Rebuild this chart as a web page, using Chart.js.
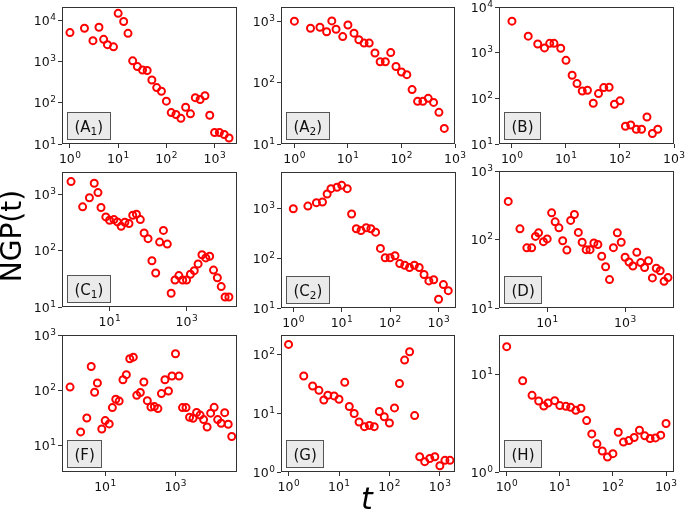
<!DOCTYPE html>
<html>
<head>
<meta charset="utf-8">
<script src="https://cdn.jsdelivr.net/npm/chart.js@4.4.0/dist/chart.umd.min.js"></script>
<style>
  html, body { margin: 0; padding: 0; background: #fff; }
  #wrap { position: relative; width: 685px; height: 512px; overflow: hidden; }
  #wrap canvas { position: absolute; left: 0; top: 0; }
</style>
</head>
<body>
<div id="wrap"></div>
<script>
// time bins shared by all panels (each panel uses the first N)
const tBins = [1, 2, 3, 4, 5, 6, 8, 10, 13, 16, 20, 25, 32, 40, 50, 63, 79, 100, 126, 158, 200, 251, 316, 398, 501, 631, 794,
  1000, 1259, 1585, 1995, 2512, 3162, 3981, 5012, 6310, 7943, 10000, 12589, 15849, 19953, 25119, 31623, 39811];

const ngpA1 = [5100, 6500, 3250, 6900, 3500, 2600, 2300, 15000, 9500, 4900, 1050, 760, 630, 610, 360, 235, 192, 110, 58, 52, 42, 78, 54, 134, 121, 149, 50, 19, 19, 17, 14];
const ngpA2 = [1030, 790, 820, 690, 1040, 760, 575, 890, 655, 510, 450, 450, 310, 223, 223, 315, 186, 151, 137, 78, 50, 50, 56, 48, 33, 18];
const ngpB = [4900, 2300, 1550, 1270, 1600, 1600, 1250, 680, 320, 210, 145, 150, 78, 127, 172, 175, 74, 88, 24.5, 26, 21, 21, 39, 17, 21];
const ngpC1 = [1660, 594, 860, 1550, 1060, 578, 394, 343, 353, 321, 268, 316, 300, 422, 440, 353, 204, 162, 66, 40, 141, 227, 130, 17.5, 30, 36, 30, 30, 38, 44, 58, 84, 74, 79, 45, 33, 23, 15, 15];
const ngpC2 = [985, 1110, 1300, 1340, 1945, 2490, 2650, 2900, 2490, 770, 390, 360, 408, 390, 333, 157, 102, 102, 112, 78, 72, 65, 72, 65, 47, 35, 37, 15, 29.5, 22.3];
const ngpD = [360, 143, 75.5, 75.5, 111, 125, 93, 102, 245, 181, 148, 96, 70, 190, 232, 127, 91, 71, 71, 89, 84.5, 57, 40, 26, 76, 125, 91, 55, 47, 41, 65, 46, 39, 49, 27.5, 38, 35, 24.5, 27.8];
const ngpF = [113, 17.3, 31, 268, 91, 134, 19.6, 27.8, 24.2, 48, 68, 63, 154, 190, 370, 396, 80, 90, 140, 64, 49, 50, 46, 86, 154, 96, 180, 456, 180, 48, 48, 32, 30.6, 39, 35, 29, 21.3, 38, 48.5, 29, 24.9, 38.8, 23.9, 14.3];
const ngpG = [148, 43, 29, 24.5, 16.8, 20.2, 19.7, 17.3, 33.5, 13, 9.9, 7.1, 5.9, 6.2, 5.9, 10.7, 8.7, 6.8, 12.3, 32, 80, 111, 9.1, 1.82, 1.5, 1.7, 1.82, 1.28, 1.58, 1.58];
const ngpH = [19.1, 8.55, 6.07, 5.31, 4.73, 5.07, 5.36, 4.77, 4.69, 4.58, 4.27, 4.48, 3.35, 2.45, 1.94, 1.64, 1.42, 1.54, 2.55, 2.02, 2.1, 2.25, 2.67, 2.34, 2.2, 2.23, 2.38, 3.13];

const xTicksFull = [1, 10, 100, 1000];
const xTicksOdd = [10, 1000];

// panel layout: plot rect [left, top, right, bottom], log10 axis ranges
const panels = [
  { tag: "A", sub: "1", ngp: ngpA1, box: [62, 7, 237, 144], xr: [-0.165, 3.465], yr: [1, 4.33], xt: xTicksFull, yt: [10, 100, 1000, 10000] },
  { tag: "A", sub: "2", ngp: ngpA2, box: [281, 7, 455, 144], xr: [-0.25, 3], yr: [1, 3.245], xt: xTicksFull, yt: [10, 100, 1000] },
  { tag: "B", sub: "", ngp: ngpB, box: [499, 7, 674, 144], xr: [-0.24, 3], yr: [1, 4], xt: xTicksFull, yt: [10, 100, 1000, 10000] },
  { tag: "C", sub: "1", ngp: ngpC1, box: [62, 172, 237, 307], xr: [-0.235, 4.31], yr: [1, 3.39], xt: xTicksOdd, yt: [10, 100, 1000] },
  { tag: "C", sub: "2", ngp: ngpC2, box: [281, 172, 456, 308], xr: [-0.254, 3.36], yr: [1, 3.73], xt: xTicksFull, yt: [10, 100, 1000] },
  { tag: "D", sub: "", ngp: ngpD, box: [499, 171, 674, 308], xr: [-0.237, 4.255], yr: [1, 3], xt: xTicksOdd, yt: [10, 100, 1000] },
  { tag: "F", sub: "", ngp: ngpF, box: [62, 335, 237, 472], xr: [-0.229, 4.75], yr: [0.51, 3], xt: xTicksOdd, yt: [10, 100, 1000] },
  { tag: "G", sub: "", ngp: ngpG, box: [281, 335, 455, 472], xr: [-0.15, 3.3], yr: [0, 2.33], xt: xTicksFull, yt: [1, 10, 100] },
  { tag: "H", sub: "", ngp: ngpH, box: [499, 335, 674, 472], xr: [-0.145, 3.15], yr: [0, 1.4], xt: xTicksFull, yt: [1, 10] },
];

const FONT = '"DejaVu Sans", sans-serif';
const AXW = 10;

function drawPower(ctx, exp, x, y, align) {
  ctx.font = "12.5px " + FONT;
  const wBase = ctx.measureText("10").width;
  ctx.font = "9px " + FONT;
  const wExp = ctx.measureText(String(exp)).width;
  const w = wBase + wExp + 0.5;
  const x0 = align === "center" ? x - w / 2 : x - w;
  ctx.textAlign = "left";
  ctx.textBaseline = "alphabetic";
  ctx.fillStyle = "#111";
  ctx.font = "12.5px " + FONT;
  ctx.fillText("10", x0, y);
  ctx.font = "9px " + FONT;
  ctx.fillText(String(exp), x0 + wBase + 0.5, y - 5);
}

function drawTag(ctx, area, letter, sub) {
  ctx.font = "15px " + FONT;
  const w1 = ctx.measureText("(" + letter).width;
  const w3 = ctx.measureText(")").width;
  ctx.font = "10.5px " + FONT;
  const w2 = sub ? ctx.measureText(sub).width : 0;
  const bx = Math.round(area.left + 5) + 0.5;
  const by = Math.round(area.bottom - 32) + 0.5;
  const bw = Math.round(w1 + w2 + w3 + 14);
  const bh = 27;
  ctx.fillStyle = "#ebebeb";
  ctx.fillRect(bx, by, bw, bh);
  ctx.strokeStyle = "#555";
  ctx.lineWidth = 1;
  ctx.strokeRect(bx, by, bw, bh);
  const base = by + 19;
  let x = bx + 7;
  ctx.fillStyle = "#111";
  ctx.textAlign = "left";
  ctx.textBaseline = "alphabetic";
  ctx.font = "15px " + FONT;
  ctx.fillText("(" + letter, x, base);
  x += w1;
  if (sub) {
    ctx.font = "10.5px " + FONT;
    ctx.fillText(sub, x, base + 3);
    x += w2;
  }
  ctx.font = "15px " + FONT;
  ctx.fillText(")", x, base);
}

const panelDeco = {
  id: "panelDeco",
  afterDraw(chart, args, opts) {
    const { ctx, chartArea: a, scales } = chart;
    ctx.save();
    ctx.strokeStyle = "#333";
    ctx.lineWidth = 1;
    ctx.strokeRect(a.left + 0.5, a.top + 0.5, a.right - a.left - 1, a.bottom - a.top - 1);
    scales.x.ticks.forEach((t) => {
      const px = scales.x.getPixelForValue(t.value);
      drawPower(ctx, Math.round(Math.log10(t.value)), px, a.bottom + 19, "center");
    });
    scales.y.ticks.forEach((t) => {
      const py = scales.y.getPixelForValue(t.value);
      drawPower(ctx, Math.round(Math.log10(t.value)), a.left - 6, py + 4.5, "right");
    });
    drawTag(ctx, a, opts.tag, opts.sub);
    ctx.restore();
  },
};

const figLabels = {
  id: "figLabels",
  afterDraw(chart) {
    const ctx = chart.ctx;
    ctx.save();
    ctx.fillStyle = "#000";
    ctx.textAlign = "center";
    ctx.textBaseline = "middle";
    ctx.font = "28px " + FONT;
    ctx.translate(14, 236);
    ctx.rotate(-Math.PI / 2);
    ctx.fillText("NGP(t)", 0, 0);
    ctx.restore();
    ctx.save();
    ctx.fillStyle = "#000";
    ctx.textAlign = "center";
    ctx.textBaseline = "alphabetic";
    ctx.font = "italic 30px " + FONT;
    ctx.fillText("t", 367, 509);
    ctx.restore();
  },
};

const wrap = document.getElementById("wrap");

function makePanel(p, extra) {
  const canvas = document.createElement("canvas");
  canvas.width = 685;
  canvas.height = 512;
  wrap.appendChild(canvas);
  const logAxis = (range, ticks, fit) => ({
    type: "logarithmic",
    min: Math.pow(10, range[0]),
    max: Math.pow(10, range[1]),
    bounds: "data",
    afterBuildTicks: (s) => {
      s.ticks = ticks.map((v) => ({ value: v }));
    },
    afterFit: fit,
    ticks: { display: false, autoSkip: false },
    grid: { drawOnChartArea: false, drawTicks: true, tickLength: 4, color: "#333", lineWidth: 1 },
    border: { display: false },
  });
  return new Chart(canvas, {
    type: "scatter",
    data: {
      datasets: [
        {
          data: p.ngp.map((v, i) => ({ x: tBins[i], y: v })),
          borderColor: "#ff0000",
          backgroundColor: "rgba(0,0,0,0)",
          pointRadius: 3.5,
          pointHoverRadius: 3.5,
          borderWidth: 2,
        },
      ],
    },
    options: {
      responsive: false,
      animation: false,
      events: [],
      layout: {
        padding: { left: p.box[0] - AXW, top: p.box[1], right: 685 - p.box[2], bottom: 512 - p.box[3] - AXW },
      },
      plugins: {
        legend: { display: false },
        tooltip: { enabled: false },
        panelDeco: { tag: p.tag, sub: p.sub },
      },
      scales: {
        x: logAxis(p.xr, p.xt, (s) => { s.height = AXW; }),
        y: logAxis(p.yr, p.yt, (s) => { s.width = AXW; }),
      },
    },
    plugins: extra ? [panelDeco, figLabels] : [panelDeco],
  });
}

panels.forEach((p, i) => makePanel(p, i === 0));
</script>
</body>
</html>
